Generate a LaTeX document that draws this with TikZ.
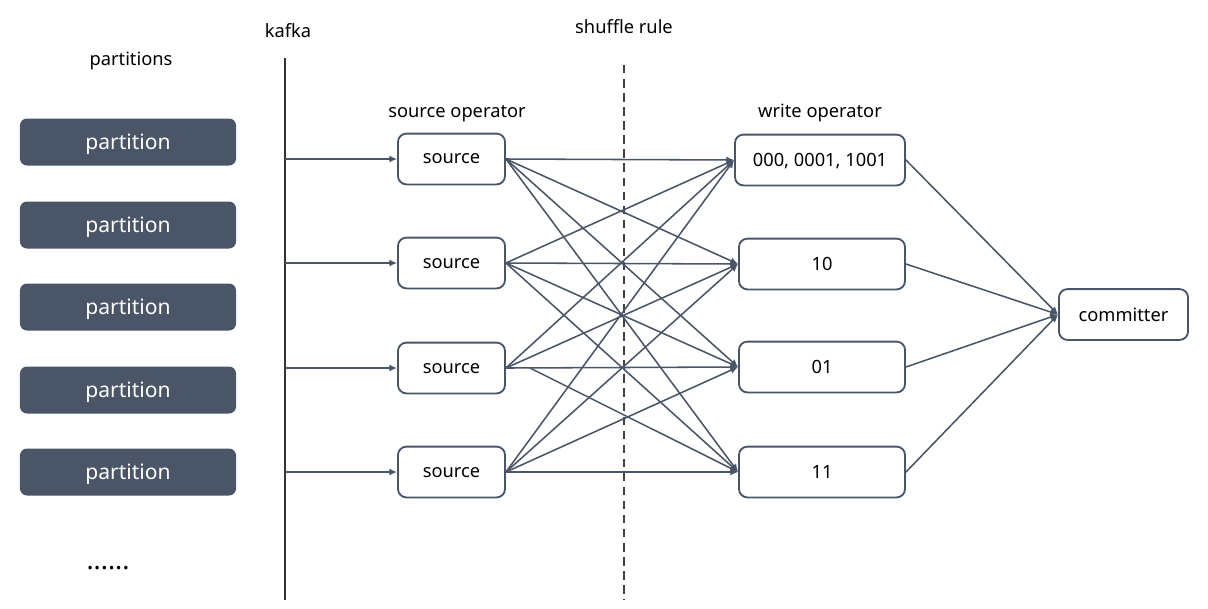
\documentclass[tikz,border=0pt]{standalone}
\usepackage{fontspec}
\setmainfont{Noto Sans}
\usetikzlibrary{arrows.meta}
\definecolor{slate}{HTML}{4A5568}

\tikzset{
  part/.style={fill=slate, text=white, rounded corners=5pt, minimum width=5.4cm,
    minimum height=1.175cm, text depth=0pt, font=\fontsize{15}{17}\selectfont},
  opbox/.style={draw=slate, line width=1.3pt, rounded corners=6pt, minimum height=1.27cm,
    text depth=0pt, font=\fontsize{13}{15}\selectfont},
  lbl/.style={text depth=0pt, font=\fontsize{13}{15}\selectfont},
  edge/.style={draw=slate, line width=1.1pt, -{Latex[length=5.5pt,width=5pt]}}
}

\begin{document}
\begin{tikzpicture}[x=0.025cm, y=-0.025cm]
\useasboundingbox (0,0) rectangle (1208,608);

\node[lbl] (lparts) at (131,59) {partitions};
\node[lbl] (lkafka) at (288,30) {kafka};
\node[lbl] (lshuffle) at (624,27) {shuffle rule};
\node[lbl] (lsrc) at (457,111) {source operator};
\node[lbl] (lwrite) at (820,111) {write operator};

\foreach \y [count=\i] in {142,225,307,390,472}
   \node[part] (p\i) at (128,\y) {partition};
\node[lbl, font=\fontsize{19}{21}\selectfont\bfseries] (pdots) at (108,568) {......};

% kafka and shuffle lines
\coordinate (k1) at (285,58); \coordinate (k2) at (285,600);
\draw [line width=1.3pt, black!80] (k1)--(k2);
\coordinate (d1) at (624,65); \coordinate (d2) at (624,600);
\draw [line width=1.3pt, black!75, dash pattern=on 6pt off 4pt] (d1)--(d2);

\foreach \y [count=\i] in {159,263,368,472}
{
   \node[opbox, minimum width=2.675cm] (s\i) at (451.5,\y) {source};
   \draw[edge] (k1 |- s\i.west)--(s\i.west);
}

\node[opbox, minimum width=4.25cm] (w1) at (820,160) {000, 0001, 1001};
\node[opbox, minimum width=4.15cm] (w2) at (822,264) {10};
\node[opbox, minimum width=4.15cm] (w3) at (822,367) {01};
\node[opbox, minimum width=4.15cm] (w4) at (822,472) {11};

\node[opbox, minimum width=3.225cm] (com) at (1123.5,314.5) {committer};

% shuffle
\foreach \i in {1,2,3,4}
{
   \foreach \j in {1,2,3,4}
   {
      \ifnum\i\j=34 \else \draw[edge] (s\i.east)--(w\j.west); \fi
   }
   \draw[edge] (w\i.east)--(com.west);
}
\coordinate (c34) at (530,368);
\draw[edge] (c34)--(w4.west);

\end{tikzpicture}
\end{document}
